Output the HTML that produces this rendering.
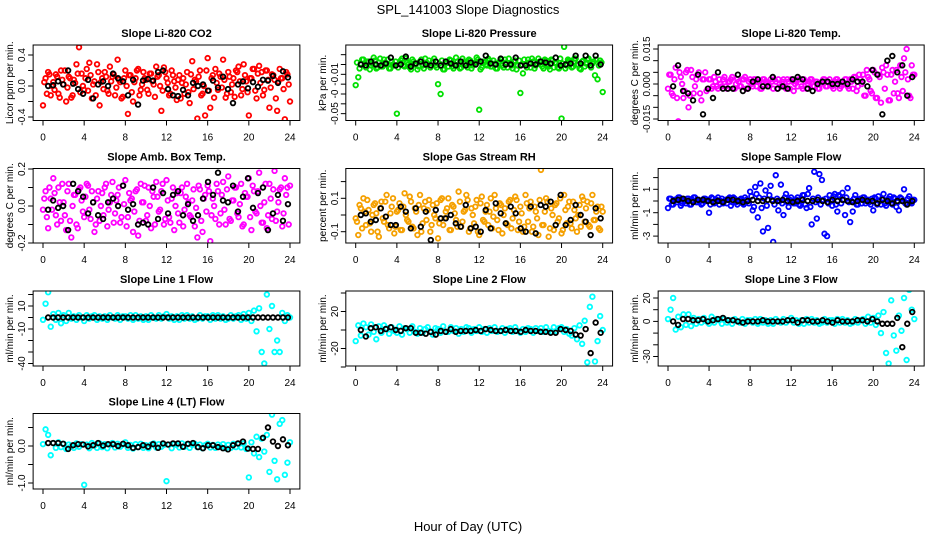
<!DOCTYPE html>
<html><head><meta charset="utf-8"><style>
html,body{margin:0;padding:0;background:#fff;}
svg{display:block;font-family:"Liberation Sans","DejaVu Sans",sans-serif;}
</style></head><body>
<svg id="chart" width="936" height="540" viewBox="0 0 936 540" xmlns="http://www.w3.org/2000/svg">
<rect x="0" y="0" width="936" height="540" fill="#fff"/>
<text x="468" y="14" font-size="13" text-anchor="middle">SPL_141003  Slope Diagnostics</text>
<text x="468" y="531" font-size="13" text-anchor="middle">Hour of Day (UTC)</text>
</svg>
<script>
// ---- data (colored series: 0.25 h steps; second colored series offset by 0.125 h; black series ~0.5 h steps) ----
const xTicks = [0,4,8,12,16,20,24];
const co2Color = [-0.25,0.1,0.18,-0.12, 0.05,0.15,-0.1,0.2, 0.02,-0.2,0.12,-0.15, 0.08,0.28,0.5,0.16, -0.05,0.22,0.3,-0.16, 0.06,0.28,-0.25,0.1, 0.18,-0.06,0.25,0.12, -0.12,0.34,0.05,-0.14, 0.2,-0.36,0.14,-0.2, 0.1,0.22,-0.05,0.18, 0.08,-0.1,0.16,0.02, 0.25,0.14,-0.32,0.24, 0.1,-0.12,0.2,0.06, -0.18,0.14,0.04,-0.1, 0.18,-0.22,0.32,0.08, -0.42,0.2,-0.1,-0.38, 0.36,-0.28,0.14,0.22, -0.05,0.12,0.34,-0.15, 0.18,-0.08,0.1,0.2, 0.25,-0.12,0.28,0.06, -0.38,0.1,0.22,-0.16, 0.26,0.18,-0.05,0.2, -0.28,0.15,0.08,-0.32, 0.22,0.1,-0.43,0.15, -0.2];
const co2Color2 = [0.05,-0.1,0.15,0.0,-0.05,0.12,-0.15,0.08,0.2,-0.02,0.1,-0.12,0.04,0.16,-0.08,0.0, 0.1,-0.06,0.14,0.02,-0.12,0.18,0.05,-0.04,0.12,-0.1,0.06,0.15,-0.02,0.08,-0.16,0.1, 0.0,0.14,-0.08,0.05,0.2,-0.12,0.02,0.1,-0.05,0.16,0.06,-0.14,0.12,0.0,-0.06,0.18, 0.04,-0.1,0.14,-0.02,0.08,-0.16,0.1,0.02,-0.08,0.15,-0.04,0.06,0.12,-0.12,0.0,0.2, -0.06,0.1,-0.15,0.04,0.16,-0.02,0.08,-0.1,0.12,0.02,-0.14,0.18,0.06,-0.04,0.14,-0.08, 0.1,0.22,-0.06,0.16,0.04,-0.12,0.2,0.08,-0.02,0.14,-0.16,0.06,0.1,-0.04,0.18,0.02];
const co2Black = [0,0.01,0.06,0.02,0.2,0.03,-0.04,-0.1,0.08,-0.16,0.02,0.06,0.0,0.16,0.1,0.06,-0.12,0.08,-0.24,0.07,0.09,0.07,0.18,0.2,-0.04,-0.12,-0.13,-0.05,-0.12,0.04,0.0,0.02,-0.06,0.07,-0.02,0.12,-0.04,-0.22,0.02,0.06,-0.03,0.05,-0.01,0.08,0.07,0.13,0.04,0.19,0.11];
const presColor = [-0.021,-0.013,0.001,0.005, -0.003,0.003,-0.001,0.007, -0.004,0.002,-0.002,0.005, 0.0,-0.004,0.003,-0.001, -0.05,0.001,0.006,-0.002, 0.002,-0.003,0.005,0.0, -0.005,0.003,-0.001,0.006, 0.0,-0.003,0.003,-0.001, -0.02,-0.03,-0.005,0.001, -0.002,0.004,-0.004,0.007, 0.0,-0.003,0.003,-0.001, 0.005,-0.004,0.001,0.007, -0.046,-0.003,0.002,-0.001, 0.004,-0.002,0.001,-0.004, 0.003,-0.001,0.005,-0.003, 0.001,-0.004,0.004,-0.001, -0.029,-0.009,0.0,0.005, -0.003,0.003,-0.001,0.006, 0.0,-0.004,0.004,-0.002, 0.005,-0.003,0.001,-0.004, -0.055,0.018,-0.001,0.004, -0.003,0.006,0.0,-0.004, 0.003,-0.002,0.005,-0.001, 0.001,-0.011,-0.015,0.004, -0.028];
const presColor2 = [0.002,-0.004,0.005,-0.001,0.003,-0.005,0.001,0.004,-0.003,0.006,-0.002,0.002,0.005,-0.004,0.0,0.003, -0.003,0.004,-0.001,0.006,0.0,-0.005,0.003,0.001,-0.002,0.005,-0.004,0.002,0.004,-0.001,0.006,-0.003, 0.001,0.004,-0.005,0.002,0.005,-0.002,0.0,0.003,-0.004,0.006,0.001,-0.003,0.004,-0.001,0.002,0.005, -0.005,0.003,0.0,0.006,-0.002,0.004,-0.004,0.001,0.005,-0.003,0.002,0.006,-0.001,0.003,-0.005,0.004, 0.0,0.005,-0.003,0.002,0.006,-0.004,0.001,0.003,-0.002,0.005,0.0,-0.005,0.004,0.002,-0.003,0.006, 0.001,-0.004,0.005,0.003,-0.002,0.006,0.0,-0.005,0.004,0.001,0.006,-0.003,0.003,0.005,-0.001,0.002];
const presBlack = [0.0,-0.001,0.003,0.0,-0.001,0.001,0.007,-0.001,0.0,0.008,-0.002,0.001,0.003,0.0,-0.001,0.003,-0.001,0.003,0.001,-0.001,0.003,-0.001,0.002,0.0,0.003,0.009,0.001,0.0,0.006,0.0,0.0,0.007,-0.001,-0.001,0.001,0.0,0.003,0.002,0.001,0.007,-0.001,0.0,0.001,0.009,0.001,0.009,-0.001,0.009,0.0];
const tempColor = [-0.002,0.004,-0.005,0.007, -0.016,0.003,-0.006,0.005, -0.01,0.006,-0.004,0.002, 0.005,-0.007,0.002,-0.003, 0.002,-0.002,0.003,-0.001, 0.002,-0.001,0.003,-0.002, 0.001,0.003,-0.002,0.002, -0.001,0.002,0.003,-0.002, 0.002,-0.001,0.002,0.001, -0.002,0.002,0.001,-0.001, 0.002,-0.002,0.001,0.002, -0.001,0.002,-0.002,0.001, 0.002,-0.003,0.001,0.002, -0.001,0.002,-0.002,0.001, 0.002,-0.001,0.001,-0.002, 0.001,0.002,-0.001,0.002, -0.001,0.001,0.002,-0.002, 0.001,0.002,-0.001,0.002, -0.002,0.003,-0.001,0.002, 0.004,-0.005,0.003,-0.003, 0.006,-0.006,0.004,-0.008, 0.005,0.008,-0.007,0.004, -0.004,0.006,-0.006,0.003, 0.011,0.015,-0.005,0.008, 0.004];
const tempColor2 = [0.004,-0.004,0.002,-0.006,0.005,0.0,-0.003,0.006,-0.005,0.003,-0.001,0.004,-0.004,0.002,0.005,-0.002, 0.002,-0.001,0.001,-0.002,0.0,0.002,-0.001,0.001,0.002,-0.002,0.0,0.001,-0.001,0.002,-0.002,0.001, 0.0,0.002,-0.001,0.001,-0.002,0.002,0.0,-0.001,0.001,0.002,-0.002,0.0,0.001,-0.001,0.002,-0.002, 0.001,0.0,-0.001,0.002,-0.002,0.001,0.0,0.002,-0.001,0.001,-0.002,0.0,0.002,-0.001,0.001,0.0, -0.002,0.002,0.001,-0.001,0.0,0.002,-0.002,0.001,0.003,-0.003,0.004,0.0,-0.005,0.006,0.002,-0.004, 0.005,-0.006,0.003,0.007,-0.002,0.004,-0.007,0.006,0.001,-0.004,0.008,-0.003,0.005,0.002,-0.006,0.004];
const tempBlack = [-0.001,0.008,-0.003,-0.004,-0.007,0.004,-0.013,-0.002,-0.006,0.005,-0.002,-0.002,-0.002,0.004,-0.003,-0.002,0.001,0.002,-0.001,-0.001,0.003,-0.002,-0.001,-0.002,0.002,0.003,0.002,-0.002,-0.003,0.0,0.001,0.001,0.0,0.0,0.001,0.0,0.002,0.001,0.001,-0.001,0.006,0.004,-0.013,0.01,0.012,0.005,0.008,-0.005,0.003];
const ambColor = [-0.02,0.08,-0.12,0.04, 0.15,-0.05,0.1,-0.08, 0.02,-0.13,0.12,-0.17, 0.06,-0.1,0.09,0.03, -0.06,0.12,-0.02,0.08, -0.14,0.04,-0.08,0.07, 0.1,-0.11,0.02,0.13, -0.04,0.06,-0.09,0.11, 0.14,-0.06,0.03,-0.14, 0.08,-0.16,0.12,0.02, -0.08,0.1,-0.12,0.05, 0.13,-0.03,0.08,-0.1, 0.14,-0.06,0.04,-0.13, 0.07,-0.09,0.1,-0.02, 0.12,-0.05,0.03,-0.11, -0.17,0.09,-0.14,0.06, 0.11,-0.19,0.04,-0.07, 0.08,-0.04,0.13,-0.1, 0.16,-0.08,0.03,0.1, -0.06,0.12,-0.1,0.05, 0.15,-0.13,0.08,-0.04, 0.18,-0.09,0.02,-0.12, 0.12,-0.07,0.19,-0.03, 0.09,-0.11,0.15,0.1, 0.11];
const ambColor2 = [0.04,-0.06,0.1,-0.02,0.07,-0.1,0.02,0.12,-0.05,0.08,-0.08,0.0,0.06,-0.12,0.1,-0.03, 0.05,0.11,-0.07,0.02,-0.1,0.08,0.0,-0.05,0.12,-0.02,0.06,-0.09,0.03,0.1,-0.06,0.01, -0.11,0.07,0.04,-0.03,0.09,-0.08,0.02,0.11,-0.05,0.0,0.08,-0.1,0.05,-0.02,0.12,-0.07, 0.03,-0.09,0.1,0.0,-0.04,0.07,-0.11,0.05,0.02,-0.06,0.09,-0.01,0.11,-0.08,0.04,-0.03, 0.08,-0.05,0.0,0.12,-0.1,0.06,-0.02,0.09,-0.07,0.03,0.1,-0.04,0.01,-0.11,0.07,0.05, -0.06,0.11,-0.03,0.08,0.0,-0.09,0.12,-0.05,0.04,0.09,-0.08,0.02,0.1,-0.04,0.06,-0.1];
const ambBlack = [-0.02,0.03,-0.01,0.0,-0.13,0.12,0.08,0.05,-0.04,0.02,-0.05,-0.07,0.02,0.04,0.0,0.11,-0.02,0.01,-0.1,-0.09,-0.1,0.1,-0.07,0.07,-0.04,0.06,0.08,-0.05,0.01,-0.08,-0.05,0.04,0.13,0.06,0.18,0.03,0.02,0.11,-0.03,0.05,0.15,-0.01,0.07,0.1,-0.13,-0.04,0.06,-0.08,0.01];
const rhColor = [-0.02,-0.12,0.04,0.1, -0.06,0.03,-0.1,0.06, 0.01,-0.13,0.08,-0.04, 0.12,-0.08,0.05,-0.11, 0.02,0.07,-0.09,0.13, -0.03,0.11,-0.07,0.04, -0.12,0.12,-0.05,0.08, 0.03,-0.1,0.06,-0.02, -0.14,0.09,-0.06,0.02, 0.1,-0.09,0.05,-0.03, 0.14,-0.07,0.02,0.12, -0.1,0.04,-0.05,0.09, -0.12,0.11,-0.04,0.06, 0.02,-0.08,0.12,-0.03, 0.07,-0.11,0.04,-0.06, 0.09,-0.02,0.11,-0.09, 0.05,-0.1,0.12,-0.04, 0.08,-0.07,0.02,-0.12, 0.27,-0.06,0.1,-0.13, 0.04,-0.09,0.07,-0.02, -0.11,0.12,-0.05,0.08, -0.08,0.03,-0.1,0.06, 0.11,-0.04,0.08,-0.07, 0.12,-0.03,0.05,-0.09, 0.02];
const rhColor2 = [-0.04,0.06,-0.08,0.02,0.09,-0.05,0.0,0.07,-0.1,0.04,-0.02,0.08,-0.06,0.01,0.1,-0.07, 0.03,-0.09,0.05,0.0,-0.04,0.08,-0.08,0.02,0.06,-0.1,0.04,-0.03,0.09,-0.06,0.0,0.07, -0.05,0.1,-0.02,0.04,-0.09,0.06,0.01,-0.07,0.08,-0.04,0.03,0.09,-0.08,0.0,0.05,-0.1, 0.07,-0.03,0.02,-0.06,0.1,-0.01,0.04,-0.09,0.06,0.0,-0.05,0.08,-0.08,0.03,0.09,-0.04, 0.01,-0.07,0.07,0.04,-0.1,0.05,-0.02,0.09,-0.06,0.02,0.08,-0.08,0.0,0.06,-0.04,0.1, -0.09,0.03,0.05,-0.05,0.08,-0.02,0.0,-0.07,0.09,0.04,-0.06,0.07,-0.03,0.02,-0.08,0.05];
const rhBlack = [0.0,0.01,-0.04,-0.03,0.04,-0.01,-0.06,-0.06,0.05,0.02,-0.08,0.04,-0.07,0.02,-0.15,0.03,-0.02,-0.02,0.0,-0.05,-0.07,0.06,-0.08,-0.07,-0.1,0.03,-0.08,0.07,0.01,-0.05,0.05,0.01,-0.08,-0.1,0.05,-0.11,0.06,0.05,0.08,-0.06,0.12,-0.06,-0.03,0.06,0.0,-0.04,-0.12,0.04,-0.02];
const sampColor = [-0.6,0.2,-0.3,0.1, 0.3,-0.4,0.1,-0.2, 0.2,-0.3,0.3,-0.1, 0.1,-0.3,0.2,0.0, -1.0,0.3,-0.2,0.1, -0.3,0.2,0.0,-0.2, 0.3,-0.1,0.2,-0.3, 0.1,-0.2,0.3,0.0, 0.8,-0.8,1.2,-1.4, 1.5,-2.6,0.9,-2.3, 1.3,-3.5,2.2,-0.8, 1.4,-1.2,0.6,-0.5, 0.3,-0.2,0.1,-0.3, 0.2,0.5,-0.6,1.1, -2.0,2.5,-1.5,2.3, 1.8,-2.8,-3.0,0.5, -0.4,0.6,-0.9,0.4, 0.7,-1.2,1.1,-1.8, -0.9,0.5,-0.3,0.2, 0.3,-0.2,0.1,-0.3, -0.8,0.2,0.4,-0.3, 0.6,-0.4,0.2,-0.2, 0.3,-0.5,-0.8,0.2, 1.0,-0.3,0.4,-0.2, 0.1];
const sampColor2 = [0.2,-0.3,0.1,-0.1,0.3,-0.2,0.0,0.2,-0.3,0.1,0.3,-0.1,0.0,-0.2,0.2,0.1, -0.3,0.2,-0.1,0.3,0.0,-0.2,0.1,0.2,-0.4,0.3,-0.1,0.0,0.2,-0.3,0.1,-0.2, 0.4,-0.5,0.6,0.3,-0.6,0.2,-0.4,0.5,0.1,-0.3,0.2,0.0,-0.2,0.3,-0.1,0.1, 0.0,-0.2,0.3,-0.4,0.5,-0.3,0.6,-0.5,0.2,-0.1,0.3,-0.3,0.1,0.2,-0.2,0.0, 0.4,-0.3,0.5,-0.2,0.1,0.3,-0.1,0.0,0.2,-0.3,0.1,-0.2,0.3,0.0,-0.1,0.2, 0.3,-0.3,0.0,0.2,-0.2,0.1,0.4,-0.3,0.2,-0.1,0.3,0.0,-0.2,0.2,-0.1,0.1];
const sampBlack = [0.0,0.1,0.2,0.0,-0.1,0.1,0.1,0.0,-0.1,0.0,-0.1,0.1,0.1,0.0,-0.1,0.0,0.1,0.0,0.0,0.1,0.0,0.0,0.1,0.0,-0.1,0.0,0.1,0.0,0.0,0.1,0.0,-0.1,0.1,0.0,0.1,0.0,-0.1,0.0,0.1,0.0,0.0,-0.2,0.1,0.0,-0.2,0.0,0.0,-0.3,0.0];
const l1Color = [-2,12,22,-8, 3,-2,4,-5, 2,-3,4,-1, 1,-2,2,0, -3,2,-1,1, 2,-2,1,-1, 1,-2,2,0, -1,2,-2,1, 1,-1,2,-2, 2,-1,1,-2, 1,-2,2,0, -1,2,-1,1, 3,-1,1,-2, 1,-2,2,-1, 2,-1,1,-2, -1,2,-1,1, 1,-2,2,-1, 2,-1,1,-2, -1,2,-1,1, 2,-2,3,-1, 4,-3,6,-12, 8,-30,-40,20, -10,10,-30,-20, -30,4,-3,2, 0];
const l1Black = [0,0,0,0,0,0,0,0,0,0,0,0,0,0,0,0,0,0,0,0,0,0,0,0,0,0,0,0,0,0,0,0,0,0,0,0,0,0,0,0,0,0,0,0,0,0,0,0,0];
const l2Color = [-12,5,-6,7, 3,-5,6,-2, -10,4,-3,5, 2,-4,3,-1, -3,4,-5,2, 1,-3,4,-2, -4,2,-3,1, 3,-2,-5,2, 1,-3,4,-2, -2,3,-1,2, -4,1,-2,3, 2,-3,1,-1, 3,-2,1,-3, 2,-1,3,-2, -1,2,-3,1, 2,-2,3,-1, -3,1,-2,2, 1,-3,2,-1, 2,-2,3,-1, -2,3,-1,2, 3,-2,1,-4, -6,2,-10,5, -15,10,-35,25, 36,-34,-12,15, 0];
const l2Black = [0,-7,2,3,-1,1,3,0,-1,2,2,-3,-3,-4,-2,-5,-1,-2,1,-2,-1,-1,-1,0,-1,1,0,-1,-1,0,-1,-1,-2,0,-1,-1,-2,-2,-3,-3,1,0,-1,-5,-6,1,-25,8,-3];
const l3Color = [2,10,20,-7, 4,-5,6,-3, 6,-4,3,-2, 2,-1,3,0, -2,4,-1,2, 1,-2,2,-1, 1,-2,2,0, -1,2,-2,1, 1,-1,2,-2, 2,-1,1,-2, 1,-2,2,0, -1,2,-1,1, 3,-1,1,-2, 1,-2,2,-1, 2,-1,1,-2, -1,2,-1,1, 1,-2,2,-1, 2,-1,1,-2, -1,2,-1,1, 2,-2,4,-1, 3,-3,5,-10, 8,-27,-36,18, -12,-25,5,-8, 20,-33,27,10, 2];
const l3Black = [0,-3,2,2,1,1,2,0,1,2,3,1,1,0,-1,0,0,0,1,0,0,0,0,1,1,-1,1,1,0,0,1,0,-1,1,0,0,0,1,1,0,2,0,-2,-2,-2,3,-22,-2,8];
const l4Color = [0.05,0.45,0.3,-0.25, 0.08,-0.05,0.1,-0.03, 0.06,-0.08,0.04,0.0, -0.05,0.07,-0.02,0.05, -1.05,0.04,-0.06,0.08, 0.02,-0.05,0.07,-0.03, 0.05,-0.06,0.03,0.08, -0.04,0.06,-0.02,0.04, 0.1,-0.05,0.03,-0.07, 0.05,-0.03,0.06,-0.05, 0.02,-0.06,0.04,0.07, -0.04,0.05,-0.02,0.03, -0.95,0.04,-0.06,0.05, 0.03,-0.04,0.07,-0.02, 0.05,-0.05,0.03,0.06, -0.03,0.04,-0.06,0.02, 0.06,-0.04,0.03,-0.05, 0.04,-0.02,0.05,-0.06, 0.03,-0.05,0.06,-0.03, 0.05,-0.04,0.07,-0.08, -0.85,0.1,-0.2,0.25, -0.3,0.2,-0.15,0.3, -0.7,0.85,-0.4,-0.9, 0.6,0.7,-0.78,-0.45, 0.1];
const l4Black = [0.08,0.08,0.08,0.06,-0.08,0.02,0.05,0.04,-0.01,0.02,0.08,0.01,0.05,0.05,0.0,0.06,0.02,-0.05,-0.03,0.02,-0.02,0.05,-0.05,0.07,0.04,0.07,0.07,-0.02,0.06,0.08,-0.03,-0.06,0.02,0.02,-0.03,-0.06,-0.09,0.02,0.07,0.12,-0.07,-0.08,-0.08,0.22,0.5,0.12,0.0,0.18,0.02];

// ---- panel definitions (layout) ----
const COLS = [{x0:43,x24:290},{x0:355.7,x24:602.7},{x0:668,x24:914.3}];
const ROWS = [{top:45,bot:120.5},{top:168.5,bot:243},{top:291,bot:366},{top:413.5,bot:489}];
const panels = [
 {name:'co2',title:'Slope Li-820 CO2',ylab:'Licor ppm per min.',c:0,r:0,col:'#ff0000',data:co2Color,data2:co2Color2,blk:co2Black,v0:86,ppu:77.5,ticks:[0.4,0.2,0,-0.2,-0.4],labels:{'0.4':'0.4','0':'0.0','-0.4':'-0.4'}},
 {name:'pressure',title:'Slope Li-820 Pressure',ylab:'kPa per min.',c:1,r:0,col:'#00e000',data:presColor,data2:presColor2,blk:presBlack,v0:64.5,ppu:983,ticks:[0.01,0,-0.01,-0.02,-0.03,-0.04,-0.05],labels:{'-0.01':'-0.01','-0.03':'-0','-0.05':'-0.05'}},
 {name:'temp',title:'Slope Li-820 Temp.',ylab:'degrees C per min.',c:2,r:0,col:'#ff00ff',data:tempColor,data2:tempColor2,blk:tempBlack,v0:84,ppu:2333,ticks:[0.015,0.01,0.005,0,-0.005,-0.01,-0.015],labels:{'0.015':'0.015','0':'0.000','-0.015':'-0.015'}},
 {name:'amb-box-temp',title:'Slope Amb. Box Temp.',ylab:'degrees C per min.',c:0,r:1,col:'#ff00ff',data:ambColor,data2:ambColor2,blk:ambBlack,v0:206,ppu:185,ticks:[0.2,0.1,0,-0.1,-0.2],labels:{'0.2':'0.2','0':'0.0','-0.2':'-0.2'}},
 {name:'gas-rh',title:'Slope Gas Stream RH',ylab:'percent per min.',c:1,r:1,col:'#f5a000',data:rhColor,data2:rhColor2,blk:rhBlack,v0:215,ppu:167,ticks:[0.2,0.1,0,-0.1],labels:{'0.1':'0.1','-0.1':'-0.1'}},
 {name:'sample-flow',title:'Slope Sample Flow',ylab:'ml/min per min.',c:2,r:1,col:'#0000ff',data:sampColor,data2:sampColor2,blk:sampBlack,v0:201,ppu:11.7,ticks:[2,1,0,-1,-2,-3],labels:{'1':'1','-1':'-1','-3':'-3'}},
 {name:'line1-flow',title:'Slope Line 1 Flow',ylab:'ml/min per min.',c:0,r:2,col:'#00ffff',data:l1Color,data2:[],blk:l1Black,v0:317.5,ppu:1.15,ticks:[20,10,0,-10,-20,-30,-40],labels:{'10':'10','-10':'-10','-40':'-40'}},
 {name:'line2-flow',title:'Slope Line 2 Flow',ylab:'ml/min per min.',c:1,r:2,col:'#00ffff',data:l2Color,data2:[],blk:l2Black,v0:330,ppu:0.925,ticks:[40,20,0,-20,-40],labels:{'20':'20','-20':'-20'}},
 {name:'line3-flow',title:'Slope Line 3 Flow',ylab:'ml/min per min.',c:2,r:2,col:'#00ffff',data:l3Color,data2:[],blk:l3Black,v0:321.4,ppu:1.17,ticks:[20,10,0,-10,-20,-30],labels:{'20':'20','0':'0','-30':'-30'}},
 {name:'line4-flow',title:'Slope Line 4 (LT) Flow',ylab:'ml/min per min.',c:0,r:3,col:'#00ffff',data:l4Color,data2:[],blk:l4Black,v0:446,ppu:37,ticks:[0.5,0,-0.5,-1],labels:{'0':'0.0','-1':'-1.0'}}
];
const NS='http://www.w3.org/2000/svg';
const svg=document.getElementById('chart');
function mk(tag,attrs,parent){const e=document.createElementNS(NS,tag);for(const k in attrs)e.setAttribute(k,attrs[k]);(parent||svg).appendChild(e);return e;}
panels.forEach(p=>{
  const C=COLS[p.c],R=ROWS[p.r];
  const hp=(C.x24-C.x0)/24;
  const xs=h=>C.x0+h*hp;
  const ys=v=>p.v0-v*p.ppu;
  const L=C.x0-0.96*hp, Rt=C.x24+0.96*hp;
  const g=mk('g',{});
  
  
  const clip=mk('clipPath',{id:'clip-'+p.name},g);
  mk('rect',{x:L,y:R.top,width:Rt-L,height:R.bot-R.top},clip);
  const t=mk('text',{x:(L+Rt)/2,y:R.top-8,'font-size':11,'font-weight':'bold','text-anchor':'middle'},g);
  t.textContent=p.title;
  
  
  const pts=mk('g',{'clip-path':'url(#clip-'+p.name+')',fill:'none','stroke-width':1.8},g);
  
  
  const nC=p.data.length;
  p.data.forEach((v,i)=>{
    const c=mk('circle',{cx:xs(i*24/(nC-1)),cy:ys(v),r:2.3,stroke:p.col},pts);
    
    
  });
  p.data2.forEach((v,i)=>{
    const c=mk('circle',{cx:xs(0.125+i*0.25),cy:ys(v),r:2.3,stroke:p.col},pts);
    
    
  });
  const nB=p.blk.length;
  p.blk.forEach((v,i)=>{
    const c=mk('circle',{cx:xs(0.5+i*23.3/(nB-1)),cy:ys(v),r:2.3,stroke:'#000'},pts);
    
    
  });
  const b=mk('rect',{x:L,y:R.top,width:Rt-L,height:R.bot-R.top,fill:'none',stroke:'#000','stroke-width':1},g);
  
  
  xTicks.forEach(h=>{
    mk('line',{x1:xs(h),x2:xs(h),y1:R.bot,y2:R.bot+5,stroke:'#000'},g);
    const tl=mk('text',{x:xs(h),y:R.bot+20,'font-size':10,'text-anchor':'middle'},g);
    tl.textContent=h;
    
    
  });
  p.ticks.forEach(v=>{
    const y=ys(v);
    mk('line',{x1:L,x2:L-5,y1:y,y2:y,stroke:'#000'},g);
    const key=String(v);
    if(p.labels[key]!==undefined){
      const tl=mk('text',{x:0,y:0,'font-size':10,'text-anchor':'middle',transform:'translate('+(L-8)+','+y+') rotate(-90)'},g);
      tl.textContent=p.labels[key];
      
      
    }
  });
  const yl=mk('text',{x:0,y:0,'font-size':10,'text-anchor':'middle',transform:'translate('+(L-20)+','+((R.top+R.bot)/2)+') rotate(-90)'},g);
  yl.textContent=p.ylab;
  
  
});
</script>
</body></html>
